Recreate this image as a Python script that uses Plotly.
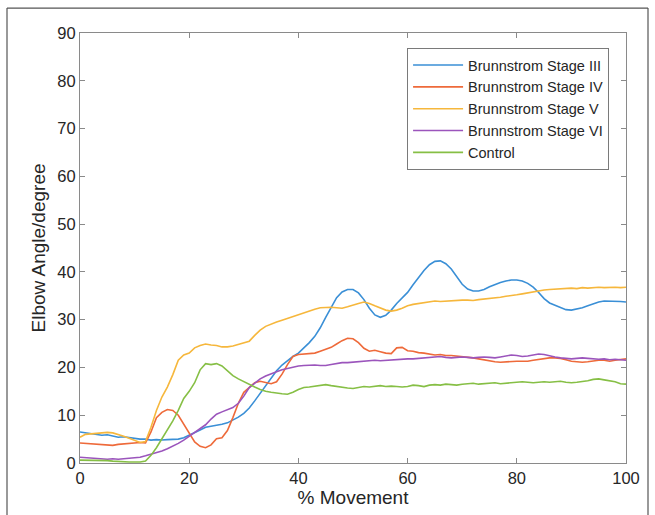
import plotly.graph_objects as go

pct = list(range(0, 101))

stage_iii = [6.5, 6.3, 6.1, 6.0, 5.8, 5.9, 5.6, 5.4, 5.5, 5.3,
             5.2, 5.0, 5.0, 4.8, 4.9, 4.8, 4.9, 5.0, 5.0, 5.3,
             5.8, 6.3, 6.9, 7.5, 7.7, 7.8, 8.1, 8.4, 9.0, 9.6,
             10.4, 11.5, 13.0, 14.6, 16.0, 17.8, 19.3, 20.5, 21.5, 22.3,
             23.0, 24.0, 25.2, 26.5, 28.3, 30.5, 32.7, 34.6, 35.8, 36.3,
             36.3, 35.6, 34.2, 32.4, 31.0, 30.5, 30.9, 32.0, 33.4, 34.6,
             35.7, 37.3, 38.8, 40.3, 41.5, 42.2, 42.3, 41.7, 40.6, 38.9,
             37.4, 36.4, 36.0, 36.0, 36.3, 36.9, 37.4, 37.8, 38.1, 38.3,
             38.3, 38.1, 37.6, 36.8, 35.7, 34.4, 33.5, 33.0, 32.6, 32.1,
             32.0, 32.2, 32.5, 32.9, 33.3, 33.7, 33.9, 33.9, 33.8, 33.8,
             33.7]

stage_iv = [4.2, 4.1, 4.0, 3.9, 3.9, 3.8, 3.7, 3.9, 4.0, 4.0,
            4.2, 4.3, 4.2, 6.5, 9.5, 10.6, 11.2, 11.0, 10.0, 8.2,
            6.3, 4.4, 3.5, 3.2, 3.8, 5.1, 5.3, 6.8, 9.5, 12.5,
            14.8, 15.9, 16.8, 17.1, 16.8, 16.6, 17.0, 18.6, 20.6, 22.3,
            22.7, 22.8, 22.9, 23.0, 23.4, 23.8, 24.2, 24.9, 25.6, 26.1,
            26.0, 25.2, 24.0, 23.4, 23.6, 23.3, 23.0, 22.9, 24.1, 24.2,
            23.5, 23.4, 23.1, 23.0, 22.8, 22.6, 22.7, 22.5, 22.5, 22.4,
            22.2, 22.1, 22.0, 21.8, 21.6, 21.3, 21.2, 21.1, 21.2, 21.3,
            21.3, 21.3, 21.3, 21.5, 21.7, 21.9, 22.0, 22.0, 21.9, 21.6,
            21.3, 21.2, 21.1, 21.2, 21.4, 21.5, 21.5, 21.3, 21.5, 21.7,
            21.8]

stage_v = [5.4, 6.0, 6.1, 6.2, 6.3, 6.4, 6.3, 6.0, 5.6, 5.2,
           4.8, 4.3, 4.5, 7.5, 11.0, 13.8, 15.9, 18.5, 21.5, 22.6,
           23.0, 24.1, 24.6, 24.9, 24.7, 24.6, 24.3, 24.3, 24.5, 24.8,
           25.1, 25.5, 26.7, 27.8, 28.6, 29.1, 29.5, 29.9, 30.3, 30.6,
           31.0, 31.5, 31.9, 32.2, 32.5, 32.6, 32.6, 32.5, 32.4, 32.7,
           33.1, 33.4, 33.7, 33.4, 32.9, 32.4, 32.0, 31.8, 32.0, 32.4,
           32.9, 33.2, 33.4, 33.6, 33.7, 33.9, 33.8, 33.9, 34.0, 34.1,
           34.1, 34.1, 34.0, 34.2, 34.3, 34.4, 34.5, 34.7, 34.9, 35.0,
           35.2, 35.4, 35.6, 35.9, 36.1, 36.2, 36.3, 36.4, 36.5, 36.6,
           36.6, 36.5, 36.7, 36.6, 36.7, 36.8, 36.7, 36.8, 36.8, 36.7,
           36.8]

stage_vi = [1.2, 1.1, 1.0, 0.9, 0.9, 0.8, 0.9, 0.8, 0.9, 1.0,
            1.0, 1.2, 1.5, 1.8, 2.1, 2.5, 3.0, 3.5, 4.1, 4.8,
            5.6, 6.3, 7.2, 8.0, 9.2, 10.2, 10.7, 11.1, 11.6, 12.5,
            14.0, 15.8, 16.8, 17.6, 18.2, 18.7, 19.1, 19.5, 19.8, 20.1,
            20.3, 20.4, 20.5, 20.5, 20.4, 20.4, 20.6, 20.8, 21.0, 21.0,
            21.1, 21.1, 21.2, 21.3, 21.5, 21.4, 21.5, 21.6, 21.6, 21.7,
            21.8, 21.8, 21.9, 22.0, 22.1, 22.2, 22.3, 22.1, 22.0, 22.1,
            22.2, 22.1, 22.0, 22.1, 22.2, 22.1, 22.0, 22.2, 22.4, 22.6,
            22.5, 22.3, 22.4, 22.6, 22.8, 22.7, 22.4, 22.2, 22.0, 21.9,
            21.8, 21.9, 22.0, 21.9, 21.8, 21.7, 21.8, 21.6, 21.7, 21.6,
            21.5]

control = [0.6, 0.6, 0.5, 0.5, 0.5, 0.5, 0.4, 0.3, 0.2, 0.2,
           0.2, 0.2, 0.4, 1.6, 3.2, 5.0, 7.0, 8.8, 11.0, 13.5,
           15.0, 16.8, 19.5, 20.8, 20.6, 20.8, 20.3, 19.2, 18.3, 17.6,
           17.0, 16.5, 15.9, 15.4, 15.0, 14.8, 14.6, 14.5, 14.4, 14.8,
           15.4, 15.8, 15.9, 16.1, 16.2, 16.4, 16.2, 16.0, 15.8, 15.7,
           15.6, 15.8, 16.0, 15.9, 16.1, 16.2, 16.0, 16.1, 16.0, 15.9,
           16.0, 16.3, 16.2, 16.0, 16.3, 16.4, 16.3, 16.5, 16.4, 16.3,
           16.5, 16.6, 16.7, 16.5, 16.6, 16.7, 16.8, 16.6, 16.7, 16.8,
           17.0, 17.0, 16.9, 16.8, 16.9, 17.0, 16.9, 17.0, 17.1, 16.9,
           16.8, 16.9, 17.0, 17.2, 17.5, 17.6, 17.4, 17.2, 17.0, 16.6,
           16.5]

series_names = ["Brunnstrom Stage III", "Brunnstrom Stage IV", "Brunnstrom Stage V",
                "Brunnstrom Stage VI", "Control"]
series_values = [stage_iii, stage_iv, stage_v, stage_vi, control]
colors = ["#3A8FD6", "#EE6A3A", "#F6B73C", "#9B55BC", "#86BF45"]

x_ticks = [0, 20, 40, 60, 80, 100]
y_ticks = [0, 10, 20, 30, 40, 50, 60, 70, 80, 90]

fig = go.Figure()
for name, vals, col in zip(series_names, series_values, colors):
    fig.add_trace(go.Scatter(x=pct, y=vals, mode="lines", name=name,
                             line=dict(color=col, width=1.6)))

axis_common = dict(showgrid=False, zeroline=False, showline=True, mirror="ticks",
                   linecolor="#8a8a8a", linewidth=1.2, ticks="inside", ticklen=5,
                   tickcolor="#8a8a8a", tickfont=dict(family="Liberation Sans, Arial", size=16.5, color="#262626"))

fig.update_layout(
    width=655, height=515,
    margin=dict(l=80, r=29, t=33, b=52),
    paper_bgcolor="white", plot_bgcolor="white",
    font=dict(family="Liberation Sans, Arial", color="#262626"),
    xaxis=dict(range=[0, 100], tickvals=x_ticks,
               title=dict(text="% Movement", font=dict(size=19), standoff=4), **axis_common),
    yaxis=dict(range=[0, 90], tickvals=y_ticks,
               title=dict(text="Elbow Angle/degree", font=dict(size=19), standoff=6), **axis_common),
    legend=dict(x=0.969, xanchor="right", y=0.965, yanchor="top",
                bgcolor="white", bordercolor="#7a7a7a", borderwidth=1,
                font=dict(size=14.5, color="#262626"), tracegroupgap=0,
                itemwidth=50),
    showlegend=True,
)

# outer figure frame
frame_col = "#555555"
fig.add_shape(type="line", xref="paper", yref="paper", x0=-0.1337, x1=1.0403, y0=1.058, y1=1.058,
              line=dict(color=frame_col, width=1.2))
fig.add_shape(type="line", xref="paper", yref="paper", x0=-0.1337, x1=-0.1337, y0=1.058, y1=-0.13,
              line=dict(color=frame_col, width=1.2))
fig.add_shape(type="line", xref="paper", yref="paper", x0=1.0403, x1=1.0403, y0=1.058, y1=-0.13,
              line=dict(color=frame_col, width=1.2))

fig.write_html("out.html")
